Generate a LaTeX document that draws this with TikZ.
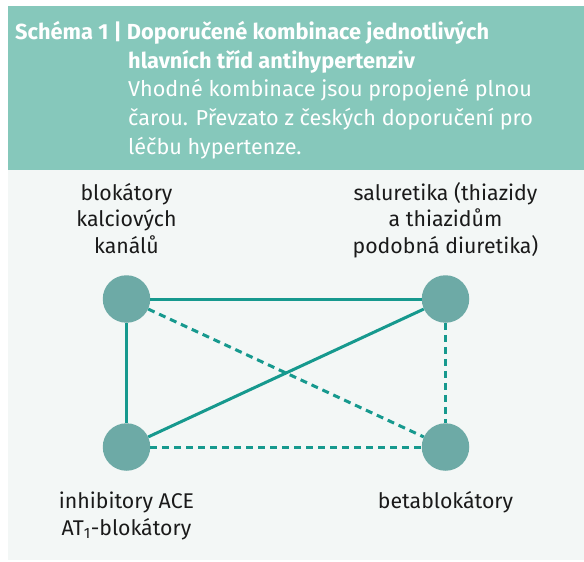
\documentclass[tikz,border=0pt]{standalone}
\usepackage{fontspec}
\setmainfont{Fira Sans}
\definecolor{headbg}{HTML}{86C8BB}
\definecolor{bodybg}{HTML}{F3F7F6}
\definecolor{dotfill}{HTML}{6DAAA6}
\definecolor{linecol}{HTML}{16998E}
\definecolor{txt}{HTML}{1A1A1A}
\tikzset{
  dot/.style={circle, fill=dotfill, minimum size=47.5bp, inner sep=0pt},
  solidline/.style={draw=linecol, line width=3bp},
  dashline/.style={draw=linecol, line width=3bp, dash pattern=on 7bp off 5bp},
  headtxt/.style={anchor=base west, inner sep=0pt, text=white, font=\fontsize{21.6bp}{29bp}\selectfont},
  headbold/.style={headtxt, font=\fontsize{21.8bp}{29bp}\selectfont\bfseries},
  lbl/.style={anchor=base, inner sep=0pt, text=txt, font=\fontsize{21.3bp}{28bp}\selectfont}
}
\begin{document}
\begin{tikzpicture}[x=1bp,y=-1bp]
\useasboundingbox (0,0) rectangle (584,562);
\fill[white] (0,0) rectangle (584,562);
\fill[bodybg] (8,170) rectangle (584,560);
\fill[headbg] (8,6) rectangle (584,170.5);
\node[headbold] (t1) at (15,40) {Schéma 1 | Doporučené kombinace jednotlivých};
\node[headbold] (t2) at (128,69) {hlavních tříd antihypertenziv};
\node[headtxt] (t3) at (128,97) {Vhodné kombinace jsou propojené plnou};
\node[headtxt] (t4) at (128,126) {čarou. Převzato z českých doporučení pro};
\node[headtxt] (t5) at (128,154.5) {léčbu hypertenze.};
% labels
\node[lbl] (l1a) at (126.5,201) {blokátory};
\node[lbl] (l1b) at (126.5,227) {kalciových};
\node[lbl] (l1c) at (126.5,253) {kanálů};
\node[lbl] (l2a) at (445.5,201) {saluretika (thiazidy};
\node[lbl] (l2b) at (445.5,227) {a thiazidům};
\node[lbl] (l2c) at (445.5,253) {podobná diuretika)};
\node[lbl] (l3a) at (126.5,508) {inhibitory ACE};
\node[lbl] (l3b) at (126.5,535) {AT\textsubscript{1}-blokátory};
\node[lbl] (l4) at (445.5,508) {betablokátory};
% dots
\node[dot] (cc) at (126.5,299) {};
\node[dot] (sal) at (445.5,299) {};
\node[dot] (ace) at (126.5,447) {};
\node[dot] (bb) at (445.5,447) {};
% connectors
\draw[solidline] (cc) -- (sal);
\draw[solidline] (cc) -- (ace);
\draw[solidline] (ace) -- (sal);
\draw[dashline] (cc) -- (bb);
\draw[dashline] (sal) -- (bb);
\draw[dashline] (ace) -- (bb);
\end{tikzpicture}
\end{document}
